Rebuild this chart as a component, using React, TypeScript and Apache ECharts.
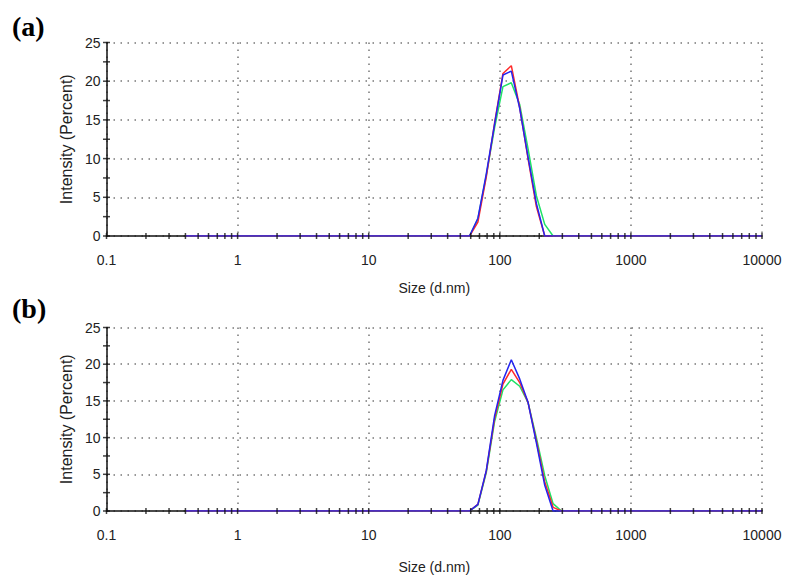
import React, { useEffect, useRef } from "react";
import * as echarts from "echarts";

// Size classes (d.nm) and intensity (%)
const sizes = [0.4, 50.75, 58.77, 68.06, 78.82, 91.28, 105.7, 122.4, 141.8, 164.2, 190.1, 220.2, 255.0, 295.3, 342.0, 10000];

const aRed = [0, 0, 0, 1.8, 7.6, 14.6, 21.0, 22.0, 16.6, 10.0, 3.8, 0, 0, 0, 0, 0];
const aGreen = [0, 0, 0, 2.2, 7.8, 14.0, 19.3, 19.8, 17.0, 11.3, 5.2, 1.5, 0, 0, 0, 0];
const aBlue = [0, 0, 0, 2.3, 8.0, 14.5, 20.8, 21.3, 16.5, 10.2, 4.2, 0, 0, 0, 0, 0];

const bRed = [0, 0, 0, 0.9, 5.4, 12.6, 17.3, 19.3, 17.5, 14.8, 9.6, 4.0, 0.5, 0, 0, 0];
const bGreen = [0, 0, 0, 0.8, 5.2, 12.2, 16.5, 17.9, 17.0, 14.8, 10.0, 4.8, 1.0, 0, 0, 0];
const bBlue = [0, 0, 0, 0.9, 5.5, 13.0, 17.8, 20.6, 18.0, 14.8, 9.3, 3.5, 0, 0, 0, 0];

const decades = [0.1, 1, 10, 100, 1000, 10000];
const minorMultipliers = [2, 3, 4, 5, 6, 7, 8, 9];
const yTickValues = [0, 2.5, 5, 7.5, 10, 12.5, 15, 17.5, 20, 22.5, 25];
const xTickLabels = ["0.1", "1", "10", "100", "1000", "10000"];

const panelLabels = ["(a)", "(b)"];

const RED = "#ff2a2a";
const GREEN = "#1ee266";
const BLUE = "#2424f0";

const toPairs = (vals: number[]) => sizes.map((s, i) => [s, vals[i]]);

export default function App() {
  const ref = useRef<HTMLDivElement>(null);
  useEffect(() => {
    if (!ref.current) return;
    const chart = echarts.init(ref.current, null, { renderer: "svg" });

    const xMinor: number[] = [];
    decades.slice(0, -1).forEach((d) => minorMultipliers.forEach((m) => xMinor.push(+(d * m).toPrecision(6))));

    const grids = [
      { left: 106.5, right: 26, top: 42.5, height: 193.5 },
      { left: 106.5, right: 26, top: 327.5, height: 183.5 },
    ];

    const mkX = (gi: number, gap: number) => ({
      type: "log",
      logBase: 10,
      min: 0.1,
      max: 10000,
      gridIndex: gi,
      name: "Size (d.nm)",
      nameLocation: "middle",
      nameGap: gap,
      nameTextStyle: { fontFamily: "Liberation Sans", fontSize: 14, color: "#222" },
      axisLine: { show: true, lineStyle: { color: "#111", width: 1.5 } },
      axisTick: { show: false },
      axisLabel: {
        fontFamily: "Liberation Sans",
        fontSize: 14,
        color: "#222",
        margin: 17,
        formatter: (v: number, i: number) => xTickLabels[i] ?? String(v),
      },
      splitLine: { show: true, lineStyle: { color: "#777", width: 1.5, type: [1.5, 5.5] } },
    });

    const mkY = (gi: number) => ({
      type: "value",
      min: 0,
      max: 25,
      interval: 5,
      gridIndex: gi,
      name: "Intensity (Percent)",
      nameLocation: "middle",
      nameGap: 30,
      nameTextStyle: { fontFamily: "Liberation Sans", fontSize: 16, color: "#222" },
      axisLine: { show: true, onZero: false, lineStyle: { color: "#111", width: 1.5 } },
      axisTick: { show: false },
      axisLabel: { fontFamily: "Liberation Sans", fontSize: 14, color: "#222", margin: 6 },
      splitLine: { show: true, lineStyle: { color: "#777", width: 1.5, type: [1.5, 5.5] } },
    });

    const line = (gi: number, vals: number[], color: string, z: number) => ({
      type: "line",
      xAxisIndex: gi,
      yAxisIndex: gi,
      data: toPairs(vals),
      showSymbol: false,
      symbol: "none",
      lineStyle: { color, width: 1.5 },
      z,
    });

    const ticks = (gi: number) => [
      {
        type: "scatter",
        xAxisIndex: gi,
        yAxisIndex: gi,
        clip: false,
        symbol: "rect",
        symbolSize: [1.5, 6],
        itemStyle: { color: "#111" },
        data: [...decades, ...xMinor].map((x) => [x, 0]),
        z: 6,
        silent: true,
      },
      {
        type: "scatter",
        xAxisIndex: gi,
        yAxisIndex: gi,
        clip: false,
        symbol: "rect",
        symbolSize: [7, 1.5],
        itemStyle: { color: "#111" },
        data: yTickValues.map((y) => [0.1, y]),
        z: 6,
        silent: true,
      },
    ];

    chart.setOption({
      animation: false,
      backgroundColor: "#fff",
      grid: grids,
      xAxis: [mkX(0, 45), mkX(1, 49)],
      yAxis: [mkY(0), mkY(1)],
      series: [
        line(0, aGreen, GREEN, 2),
        line(0, aRed, RED, 3),
        line(0, aBlue, BLUE, 4),
        line(1, bGreen, GREEN, 2),
        line(1, bRed, RED, 3),
        line(1, bBlue, BLUE, 4),
        ...ticks(0),
        ...ticks(1),
      ],
      graphic: [
        {
          type: "text",
          left: 12,
          top: 12,
          style: { text: panelLabels[0], font: "bold 28px 'Liberation Serif'", fill: "#000" },
        },
        {
          type: "text",
          left: 12,
          top: 294,
          style: { text: panelLabels[1], font: "bold 28px 'Liberation Serif'", fill: "#000" },
        },
      ],
    });
    return () => chart.dispose();
  }, []);
  return (
    <div
      ref={ref}
      style={{ position: "fixed", left: 0, top: 0, width: 788, height: 578, overflow: "hidden" }}
    />
  );
}
